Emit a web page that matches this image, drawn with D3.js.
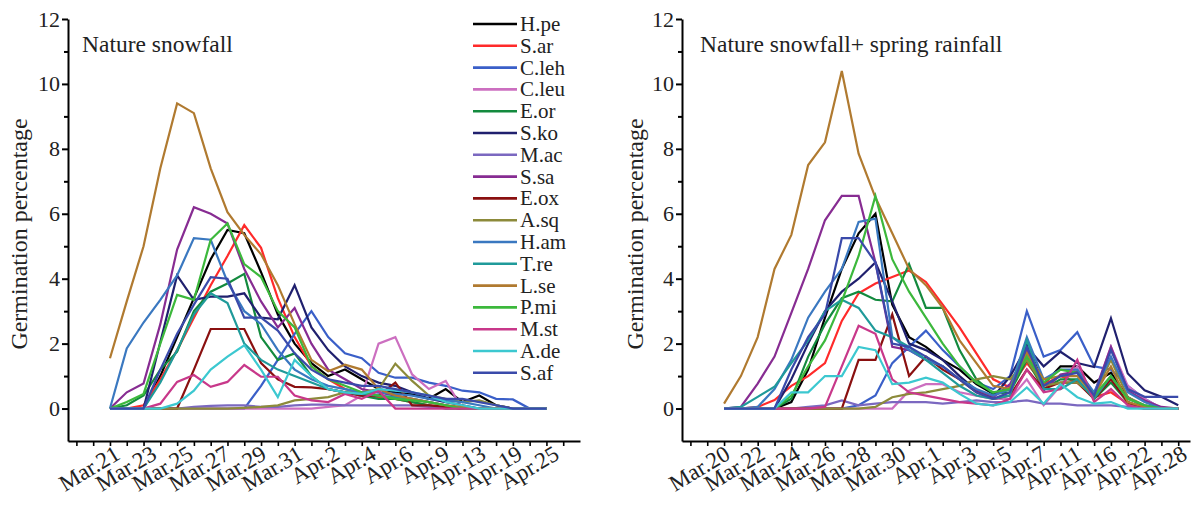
<!DOCTYPE html>
<html>
<head>
<meta charset="utf-8">
<script src="https://cdnjs.cloudflare.com/ajax/libs/d3/7.8.5/d3.min.js"></script>
<style>
  body { margin: 0; background: #fff; }
  svg text { font-family: "Liberation Serif", "Times New Roman", serif; fill: #222; }
</style>
</head>
<body>
<div id="chart"></div>
<script>
var svgWidth = 1193;
var svgHeight = 508;

// species, in legend order
var species = ["H.pe", "S.ar", "C.leh", "C.leu", "E.or", "S.ko", "M.ac", "S.sa", "E.ox",
  "A.sq", "H.am", "T.re", "L.se", "P.mi", "M.st", "A.de", "S.af"];

var colors = ["#000000", "#ff2a2a", "#3a5fc8", "#cc6fc0", "#138a3e", "#20206e", "#7b68c0",
  "#872c92", "#8a1010", "#8c8a3a", "#3a78c0", "#1f9a9a", "#b07a30", "#3cb83c", "#c8388a",
  "#3cc8d0", "#3a4aaa"];

// tick labels (every second observation)
var snowLabels = ["Mar.21", "Mar.23", "Mar.25", "Mar.27", "Mar.29", "Mar.31", "Apr.2",
  "Apr.4", "Apr.6", "Apr.9", "Apr.13", "Apr.19", "Apr.25"];
var rainLabels = ["Mar.20", "Mar.22", "Mar.24", "Mar.26", "Mar.28", "Mar.30", "Apr.1",
  "Apr.3", "Apr.5", "Apr.7", "Apr.11", "Apr.16", "Apr.22", "Apr.28"];

// Nature snowfall (germination %, one value per observation)
var snowHpe = [0,0,0,1.0,2.2,3.4,4.6,5.5,5.4,4.2,2.9,2.0,1.4,1.0,1.2,0.9,0.6,0.5,0.45,0.3,0.6,0.2,0.4,0.1,0,0,0];
var snowSar = [0,0,0.1,0.9,1.8,2.8,3.8,4.7,5.65,4.95,3.4,2.2,1.3,0.9,0.6,0.45,0.35,0.3,0.2,0.1,0.05,0,0,0,0,0,0];
var snowCleh = [0,0,0,0,0,0,0,0,0,0.7,1.5,2.3,3.0,2.2,1.7,1.55,1.1,0.95,0.95,0.8,0.7,0.55,0.5,0.3,0.28,0,0];
var snowCleu = [0,0,0,0,0,0,0,0,0,0,0,0,0,0.05,0.1,0.4,2.0,2.2,1.05,0.6,0.85,0,0,0,0,0,0];
var snowEor = [0,0.1,0.4,1.2,1.75,3.0,3.6,3.85,4.15,2.2,1.5,1.7,1.0,0.6,0.5,0.4,0.3,0.3,0.2,0.1,0,0,0,0,0,0,0];
var snowSko = [0,0,0,2.05,4.1,3.35,3.45,3.45,3.55,2.8,2.75,3.8,2.5,1.8,1.3,1.0,0.8,0.7,0.5,0.3,0.2,0.1,0,0,0,0,0];
var snowMac = [0,0,0,0,0,0.05,0.08,0.1,0.1,0.05,0.05,0.1,0.12,0.12,0.1,0.1,0.1,0.1,0.1,0.05,0.05,0,0,0,0,0,0];
var snowSsa = [0,0.5,0.77,2.6,4.9,6.2,6.0,5.7,4.3,3.3,2.5,3.1,2.0,1.2,0.9,0.6,0.5,0.4,0.3,0.2,0.1,0,0,0,0,0,0];
var snowEox = [0,0,0,0,0,1.2,2.45,2.45,2.45,1.4,0.9,0.67,0.65,0.6,0.5,0.4,0.4,0.8,0.1,0.1,0.05,0,0,0,0,0,0];
var snowAsq = [0,0,0,0,0,0,0,0,0.02,0.05,0.1,0.25,0.3,0.35,0.5,0.5,0.6,1.38,0.85,0.4,0.3,0.2,0.25,0.1,0,0,0];
var snowHam = [0,1.85,2.65,3.35,4.1,5.25,5.2,3.9,3.0,2.6,1.8,1.2,0.9,0.7,0.6,0.5,0.5,0.45,0.4,0.3,0.25,0.2,0.1,0,0,0,0];
var snowTre = [0,0,0,0.8,1.8,2.9,3.55,3.25,2.0,1.5,1.2,1.0,0.8,0.6,0.5,0.45,0.4,0.35,0.3,0.2,0.1,0,0,0,0,0,0];
var snowLse = [1.55,3.3,5.0,7.4,9.4,9.1,7.4,6.05,5.35,4.75,3.8,2.6,1.5,1.15,1.35,1.2,0.6,0.4,0.3,0.2,0.1,0.05,0,0,0,0,0];
var snowPmi = [0,0.2,0.45,2.0,3.5,3.35,5.2,5.7,4.45,4.05,3.0,2.5,1.3,0.9,0.7,0.5,0.4,0.3,0.25,0.2,0.1,0,0,0,0,0,0];
var snowMst = [0,0,0,0.15,0.82,1.03,0.67,0.82,1.34,0.98,0.98,0.4,0.25,0.2,0.45,0.3,0.55,0,0,0,0,0,0,0,0,0,0];
var snowAde = [0,0,0,0,0.15,0.55,1.2,1.6,1.95,1.2,0.35,1.5,1.0,0.6,0.5,0.45,0.6,0.55,0.5,0.4,0.2,0.1,0,0,0,0,0];
var snowSaf = [0,0,0,1.2,2.3,3.2,4.05,4.0,2.8,2.8,2.4,1.7,1.2,0.9,0.8,0.7,0.7,0.6,0.5,0.4,0.3,0.3,0.2,0.1,0,0,0];

// Nature snowfall + spring rainfall
var rainHpe = [0,0,0,0,0.2,1.2,2.8,4.3,5.4,6.0,3.2,2.2,1.9,1.5,1.2,0.75,0.45,0.6,2.0,0.75,1.3,1.3,0.8,1.1,0.35,0.05,0,0];
var rainSar = [0,0,0.05,0.26,0.7,1.0,1.4,2.7,3.55,3.85,4.05,4.25,3.9,3.2,2.5,1.7,0.9,0.65,1.4,0.75,1.0,0.8,0.35,0.5,0.15,0,0,0];
var rainCleh = [0,0,0,0,0,0,0,0,0.1,0.4,1.4,1.9,2.4,1.8,1.3,0.8,0.6,1.0,3.0,1.6,1.8,2.35,1.3,1.2,0.7,0.3,0,0];
var rainCleu = [0,0,0,0,0,0,0,0,0,0,0,0.55,0.75,0.75,0.5,0.4,0.3,0.3,0.9,0.1,0.7,1.3,0.4,1.9,0.7,0.3,0,0];
var rainEor = [0,0,0,0,0.3,1.6,2.6,3.4,3.6,3.35,3.3,4.45,3.1,3.1,1.8,0.9,0.45,0.5,1.5,0.6,0.9,0.9,0.3,0.8,0.2,0,0,0];
var rainSko = [0,0,0,0,0.9,2.0,3.0,3.6,4.0,4.5,3.3,2.0,1.8,1.5,1.0,0.56,0.36,0.98,1.9,1.3,1.75,1.4,1.28,2.78,1.08,0.56,0.36,0.1];
var rainMac = [0,0,0,0,0,0.05,0.1,0.25,0.1,0.15,0.2,0.2,0.2,0.15,0.2,0.25,0.2,0.2,0.25,0.15,0.15,0.1,0.1,0.1,0.05,0,0,0];
var rainSsa = [0,0.05,0.77,1.6,2.95,4.3,5.8,6.55,6.55,4.5,1.9,1.8,1.5,1.3,0.9,0.55,0.35,0.75,1.8,0.55,1.05,1.15,0.45,1.9,0.55,0.25,0.05,0];
var rainEox = [0,0,0,0,0,0,0,0,1.5,1.5,2.9,1.0,1.6,1.2,0.9,0.5,0.3,0.4,1.2,0.6,0.8,0.8,0.3,0.9,0.2,0,0,0];
var rainAsq = [0,0,0,0,0,0,0,0,0,0.05,0.35,0.45,0.5,0.6,0.7,0.9,1.0,0.9,1.5,0.7,0.8,0.8,0.4,1.5,0.35,0.1,0,0];
var rainHam = [0,0,0.05,0.6,1.5,2.8,3.6,4.3,5.75,5.85,2.2,1.8,1.5,1.3,0.9,0.6,0.4,0.6,2.2,0.9,1.2,1.2,0.5,1.6,0.5,0.2,0,0];
var rainTre = [0,0.05,0.36,0.67,1.4,2.1,3.0,3.35,3.1,2.4,2.2,1.9,1.5,1.1,0.7,0.4,0.3,0.4,2.1,0.6,0.6,0.9,0.3,1.0,0.3,0.1,0,0];
var rainLse = [0.15,1.0,2.2,4.3,5.35,7.5,8.2,10.4,7.85,6.5,5.4,4.3,3.8,3.1,2.1,1.4,0.7,0.6,1.7,0.9,1.0,1.0,0.4,1.3,0.2,0.05,0,0];
var rainPmi = [0,0,0,0,0.4,1.3,2.1,3.3,4.7,6.55,4.6,3.6,2.8,2.0,1.3,0.8,0.5,0.6,1.6,0.8,1.2,1.1,0.4,1.0,0.3,0.1,0,0];
var rainMst = [0,0,0,0,0,0,0.05,1.3,2.55,2.3,0.9,0.5,0.4,0.3,0.2,0.15,0.1,0.3,1.2,0.5,0.6,1.5,0.2,0.6,0.1,0,0,0];
var rainAde = [0,0,0,0,0.5,0.5,1.0,1.0,1.9,1.8,0.75,0.8,0.95,0.8,0.45,0.15,0.1,0.2,0.65,0.15,0.75,0.35,0.15,0.2,0,0,0,0];
var rainSaf = [0,0,0,0,1.2,2.2,2.9,5.25,5.25,4.5,2.0,1.9,1.6,1.3,0.9,0.5,0.3,0.5,1.9,0.7,1.0,1.1,0.4,1.8,0.6,0.36,0.36,0.36];

var snowSeries = [snowHpe, snowSar, snowCleh, snowCleu, snowEor, snowSko, snowMac, snowSsa, snowEox,
  snowAsq, snowHam, snowTre, snowLse, snowPmi, snowMst, snowAde, snowSaf];
var rainSeries = [rainHpe, rainSar, rainCleh, rainCleu, rainEor, rainSko, rainMac, rainSsa, rainEox,
  rainAsq, rainHam, rainTre, rainLse, rainPmi, rainMst, rainAde, rainSaf];

var svg = d3.select("#chart")
  .append("svg")
  .attr("width", svgWidth)
  .attr("height", svgHeight);

var yTop = 19;
var yBottom = 441;

var yScale = d3.scaleLinear()
  .domain([-1, 12])
  .range([yBottom, yTop]);

function drawPanel(opts) {
  var g = svg.append("g");

  var xScale = d3.scaleLinear()
    .domain([-2.5, opts.xMax])
    .range([opts.left, opts.right]);

  var labelScale = d3.scalePoint()
    .domain(opts.labels)
    .range(opts.labelRange);

  // lines
  var line = d3.line()
    .x((d, i) => xScale(i))
    .y(d => yScale(d));

  g.selectAll(".series")
    .data(opts.series)
    .enter()
    .append("path")
    .attr("class", "series")
    .attr("d", d => line(d))
    .attr("fill", "none")
    .attr("stroke", (d, i) => colors[i])
    .attr("stroke-width", 2.2);

  // y axis
  var leftAxis = d3.axisLeft(yScale)
    .tickValues([0, 2, 4, 6, 8, 10, 12])
    .tickSize(6)
    .tickSizeOuter(0)
    .tickPadding(2);

  var yAxis = g.append("g")
    .attr("transform", `translate(${opts.left}, 0)`)
    .call(leftAxis);

  yAxis.select(".domain").attr("stroke-width", 2);
  yAxis.selectAll(".tick line").attr("stroke-width", 2);
  yAxis.selectAll("text")
    .style("font-size", "22px");

  var minorY = g.append("g")
    .attr("transform", `translate(${opts.left}, 0)`)
    .call(d3.axisLeft(yScale).tickValues([1, 3, 5, 7, 9, 11]).tickSize(4).tickFormat(""));
  minorY.select(".domain").remove();
  minorY.selectAll(".tick line").attr("stroke-width", 2);

  // x axis
  var bottomAxis = d3.axisBottom(xScale)
    .tickValues(d3.range(-2, 28))
    .tickSize(5)
    .tickSizeOuter(0)
    .tickFormat("");

  var xAxis = g.append("g")
    .attr("transform", `translate(0, ${yBottom})`)
    .call(bottomAxis);
  xAxis.select(".domain").attr("stroke-width", 2);
  xAxis.selectAll(".tick line").attr("stroke-width", 1.6);

  var labelAxis = g.append("g")
    .attr("transform", `translate(0, ${yBottom})`)
    .call(d3.axisBottom(labelScale).tickSize(0));
  labelAxis.select(".domain").remove();
  labelAxis.selectAll("text")
    .attr("x", 0)
    .attr("y", 0)
    .attr("dy", 0)
    .attr("text-anchor", "end")
    .attr("transform", "translate(0, 17) rotate(-31)")
    .style("font-size", "23px");

  // titles
  g.append("text")
    .attr("x", opts.titleX)
    .attr("y", 52)
    .style("font-size", "23.5px")
    .text(opts.title);

  g.append("text")
    .attr("transform", `translate(${opts.yLabelX}, 234) rotate(-90)`)
    .attr("text-anchor", "middle")
    .style("font-size", "24px")
    .text("Germination percentage");

  return g;
}

drawPanel({
  left: 68, right: 580, xMax: 28,
  series: snowSeries, labels: snowLabels, labelRange: [121, 560],
  title: "Nature snowfall", titleX: 82, yLabelX: 27
});

drawPanel({
  left: 682, right: 1190, xMax: 27.7,
  series: rainSeries, labels: rainLabels, labelRange: [731, 1188],
  title: "Nature snowfall+ spring rainfall", titleX: 700, yLabelX: 643
});

// legend
var legend = svg.append("g")
  .attr("transform", "translate(473, 24)");

var legendRows = legend.selectAll(".legend-row")
  .data(species)
  .enter()
  .append("g")
  .attr("class", "legend-row")
  .attr("transform", (d, i) => `translate(0, ${i * 21.8})`);

legendRows.append("line")
  .attr("x1", 0)
  .attr("x2", 44)
  .attr("stroke", (d, i) => colors[i])
  .attr("stroke-width", 2.6);

legendRows.append("text")
  .attr("x", 47)
  .attr("dy", "0.33em")
  .style("font-size", "21px")
  .text(d => d);
</script>
</body>
</html>
